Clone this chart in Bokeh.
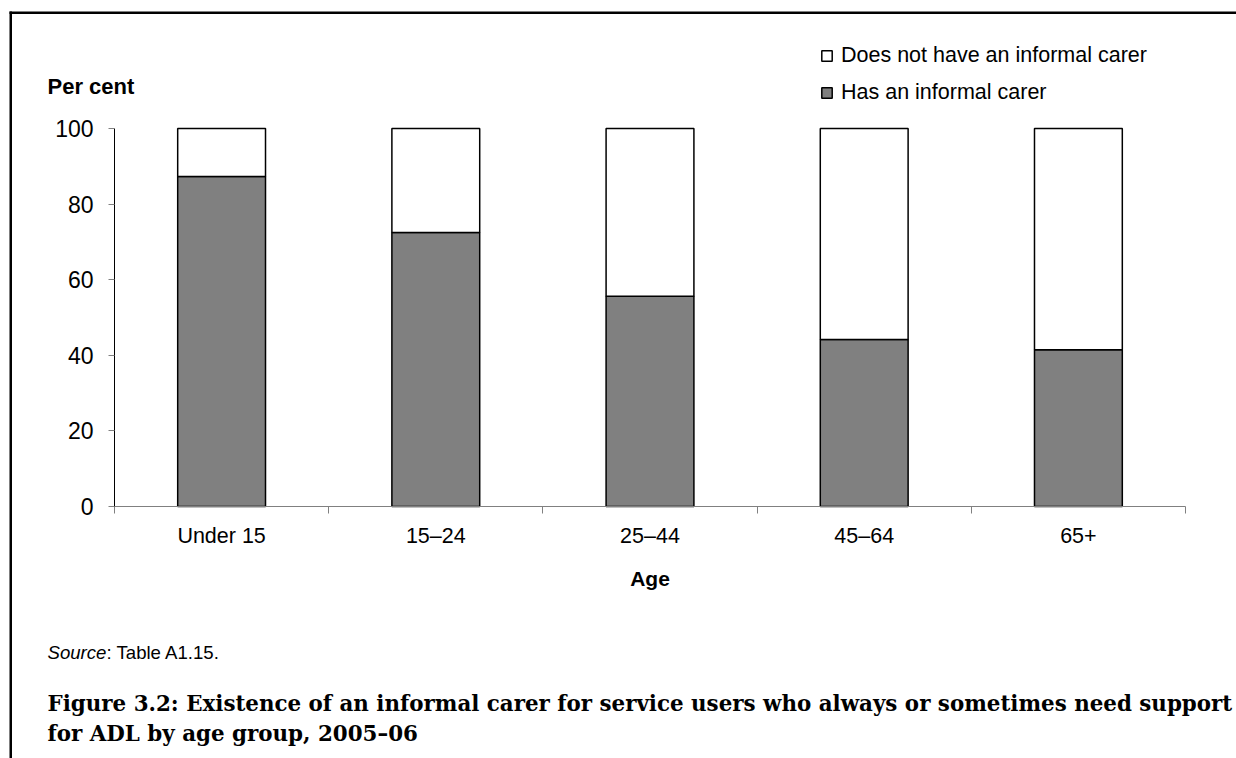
from bokeh.plotting import figure
from bokeh.models import (Range1d, LinearAxis, FixedTicker, Label, BoxAnnotation,
                          Legend, LegendItem, ColumnDataSource)
from bokeh.embed import file_html
from bokeh.resources import INLINE

# ---- data ----
age_groups = ["Under 15", "15–24", "25–44", "45–64", "65+"]
has_carer = [87.3, 72.5, 55.6, 44.2, 41.5]
no_carer = [12.7, 27.5, 44.4, 55.8, 58.5]
series_labels = ["Has an informal carer", "Does not have an informal carer"]
y_ticks = [0, 20, 40, 60, 80, 100]

# ---- layout (reference pixel geometry) ----
W, H = 1236, 758
X0, Y0 = 114, 506            # pixel of category-axis start / value 0
PX_X = 214.2                 # pixels per category
PX_Y = 3.78                  # pixels per percentage point


def xd(px):
    return (px - X0) / PX_X


def yd(py):
    return (Y0 - py) / PX_Y


SANS = "Liberation Sans"
n = len(age_groups)
centers = [i + 0.5 for i in range(n)]
boundaries = list(range(n + 1))

src = ColumnDataSource(dict(x=centers, age=age_groups, has=has_carer, no=no_carer))

p = figure(width=W, height=H, min_border=0,
           x_range=Range1d(xd(0), xd(W)), y_range=Range1d(yd(H), yd(0)),
           output_backend="svg", toolbar_location=None,
           x_axis_location=None, y_axis_location=None)
p.outline_line_color = None
p.xgrid.visible = False
p.ygrid.visible = False
p.background_fill_color = "white"
p.border_fill_color = "white"

r_has, r_no = p.vbar_stack(["has", "no"], x="x", width=0.41, source=src,
                           fill_color=["#808080", "#ffffff"],
                           line_color="black", line_width=1.5)

# y axis
yaxis = LinearAxis(ticker=FixedTicker(ticks=y_ticks), bounds=(0, 100), fixed_location=0)
yaxis.axis_line_color = "black"
yaxis.major_tick_line_color = "#808080"
yaxis.major_tick_out = 6
yaxis.major_tick_in = 0
yaxis.minor_tick_line_color = None
yaxis.major_label_text_font = SANS
yaxis.major_label_text_font_size = "23px"
yaxis.major_label_text_color = "black"
yaxis.major_label_standoff = 15
p.add_layout(yaxis, "left")

# x axis: tick marks on category boundaries
tick_axis = LinearAxis(ticker=FixedTicker(ticks=boundaries), bounds=(0, n), fixed_location=0)
tick_axis.axis_line_color = "#808080"
tick_axis.major_tick_line_color = "#808080"
tick_axis.major_tick_out = 7
tick_axis.major_tick_in = 0
tick_axis.minor_tick_line_color = None
tick_axis.major_label_text_alpha = 0
tick_axis.major_label_overrides = {b: "" for b in boundaries}
p.add_layout(tick_axis, "below")

# x axis: category labels and title
cat_axis = LinearAxis(ticker=FixedTicker(ticks=centers), bounds=(0, n), fixed_location=0,
                      major_label_overrides={c: a for c, a in zip(centers, age_groups)})
cat_axis.axis_line_color = None
cat_axis.major_tick_line_color = None
cat_axis.minor_tick_line_color = None
cat_axis.major_tick_out = 0
cat_axis.major_tick_in = 0
cat_axis.major_label_text_font = SANS
cat_axis.major_label_text_font_size = "21.5px"
cat_axis.major_label_text_color = "black"
cat_axis.major_label_standoff = 17
cat_axis.axis_label = "Age"
cat_axis.axis_label_text_font = SANS
cat_axis.axis_label_text_font_style = "bold"
cat_axis.axis_label_text_font_size = "21px"
cat_axis.axis_label_text_color = "black"
cat_axis.axis_label_standoff = 16
p.add_layout(cat_axis, "below")

# legend
legend = Legend(items=[LegendItem(label=series_labels[1], renderers=[r_no]),
                       LegendItem(label=series_labels[0], renderers=[r_has])],
                location=(820, 653), orientation="vertical",
                padding=0, margin=0, spacing=12, glyph_width=13, glyph_height=13,
                label_height=25, label_standoff=8,
                label_text_font=SANS, label_text_font_size="21.5px",
                label_text_color="black",
                border_line_color=None, background_fill_alpha=0)
p.add_layout(legend, "center")

# "Per cent"
p.add_layout(Label(x=xd(47), y=yd(86), text="Per cent", text_font=SANS, text_color="black",
                   text_font_style="bold", text_font_size="22px", text_baseline="middle"))

# source note
p.add_layout(Label(x=xd(47), y=yd(652), text="Source", text_font=SANS, text_color="black",
                   text_font_style="italic", text_font_size="18.6px", text_baseline="middle"))
p.add_layout(Label(x=xd(106), y=yd(652), text=": Table A1.15.", text_font=SANS,
                   text_color="black", text_font_size="18.6px", text_baseline="middle"))

# caption
CAP = "DejaVu Serif"
p.add_layout(Label(x=xd(47), y=yd(703),
                   text="Figure 3.2: Existence of an informal carer for service users who always or sometimes need support",
                   text_font=CAP, text_color="black", text_font_style="bold",
                   text_font_size="21.4px", text_baseline="middle"))
p.add_layout(Label(x=xd(47), y=yd(733), text="for ADL by age group, 2005–06",
                   text_font=CAP, text_color="black", text_font_style="bold",
                   text_font_size="21.4px", text_baseline="middle"))

# page frame lines (top and left)
p.add_layout(BoxAnnotation(left=xd(9), right=xd(W + 5), top=yd(11), bottom=yd(13.5),
                           fill_color="black", fill_alpha=1, line_alpha=0))
p.add_layout(BoxAnnotation(left=xd(9), right=xd(11.5), top=yd(11), bottom=yd(H + 5),
                           fill_color="black", fill_alpha=1, line_alpha=0))

open("out.html", "w").write(file_html(p, INLINE))
